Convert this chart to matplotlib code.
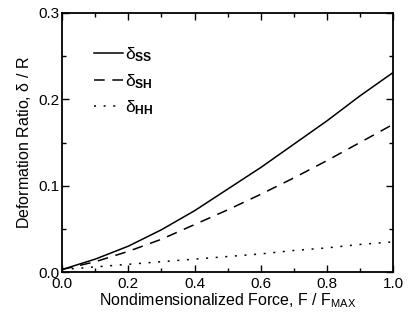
import numpy as np
import matplotlib
matplotlib.use("Agg")
import matplotlib.pyplot as plt
from matplotlib.ticker import MultipleLocator, FormatStrFormatter

plt.rcParams['font.family'] = ['Liberation Sans', 'DejaVu Sans']
plt.rcParams['mathtext.fontset'] = 'custom'
plt.rcParams['mathtext.rm'] = 'Liberation Sans'
plt.rcParams['mathtext.it'] = 'Liberation Sans'
plt.rcParams['mathtext.bf'] = 'Liberation Sans:bold'

# values
force = [0.0, 0.1, 0.2, 0.3, 0.4, 0.5, 0.6, 0.7, 0.8, 0.9, 1.0]
delta_ss = [0.003, 0.015, 0.030, 0.049, 0.071, 0.096, 0.121, 0.148, 0.175, 0.204, 0.231]
delta_sh = [0.003, 0.012, 0.024, 0.038, 0.055, 0.072, 0.090, 0.109, 0.129, 0.150, 0.171]
delta_hh = [0.003, 0.006, 0.009, 0.012, 0.015, 0.018, 0.021, 0.025, 0.028, 0.032, 0.035]
labels = [r'$\delta_{\mathbf{SS}}$', r'$\delta_{\mathbf{SH}}$', r'$\delta_{\mathbf{HH}}$']

fig = plt.figure(figsize=(4.09, 3.16), dpi=100)
ax = fig.add_axes([0.152, 0.139, 0.809, 0.82])

ax.plot(force, delta_ss, color='black', lw=1.1, ls='-', label=labels[0])
ax.plot(force, delta_sh, color='black', lw=1.1, ls=(0, (7, 5)), label=labels[1])
ax.plot(force, delta_hh, color='black', lw=1.1, ls=(0, (1.3, 5)), label=labels[2])

ax.set_xlim(0, 1.0)
ax.set_ylim(0, 0.3)
ax.xaxis.set_major_locator(MultipleLocator(0.2))
ax.xaxis.set_minor_locator(MultipleLocator(0.1))
ax.yaxis.set_major_locator(MultipleLocator(0.1))
ax.yaxis.set_minor_locator(MultipleLocator(0.05))
ax.xaxis.set_major_formatter(FormatStrFormatter('%.1f'))
ax.yaxis.set_major_formatter(FormatStrFormatter('%.1f'))
ax.tick_params(which='both', direction='in', top=True, right=True, labelsize=11)
ax.tick_params(axis='x', pad=3.5)
ax.tick_params(axis='y', pad=2)
ax.tick_params(which='major', length=5, width=1)
ax.tick_params(which='minor', length=3, width=1)
for s in ax.spines.values():
    s.set_linewidth(1.3)

ax.set_xlabel(r'Nondimensionalized Force, F / F$_{\mathrm{MAX}}$', fontsize=11.5, labelpad=0)
ax.set_ylabel(r'Deformation Ratio, $\delta$ / R', fontsize=11.5, labelpad=4)

leg = ax.legend(loc='upper left', bbox_to_anchor=(0.095, 0.875), frameon=False,
                borderpad=0, borderaxespad=0,
                handlelength=1.7, handletextpad=0.1, labelspacing=0.45, fontsize=12.5)

fig.savefig('out.png', dpi=100)
